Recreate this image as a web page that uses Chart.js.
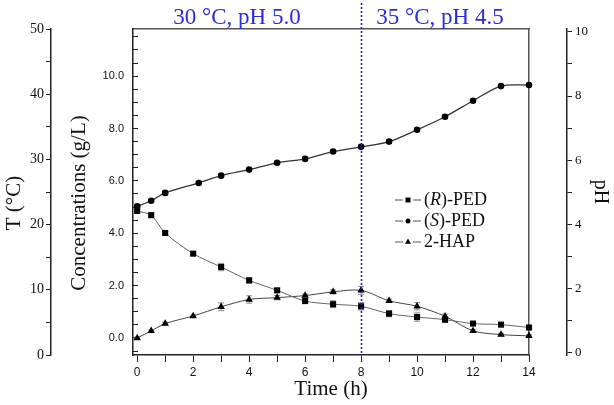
<!DOCTYPE html>
<html>
<head>
<meta charset="utf-8">
<script src="https://cdn.jsdelivr.net/npm/chart.js@4"></script>
<style>
  html, body { margin: 0; padding: 0; background: #fff; }
  #wrap { width: 614px; height: 405px; position: relative; }
</style>
</head>
<body>
<div id="wrap"><canvas id="chart"></canvas></div>
<script>
// sampling times (h)
const hours = [0, 0.5, 1, 2, 3, 4, 5, 6, 7, 8, 9, 10, 11, 12, 13, 14];
const hoursS = [0, 0.5, 1, 2.2, 3, 4, 5, 6, 7, 8, 9, 10, 11, 12, 13, 14];

// concentrations (g/L)
const rPed = [4.85, 4.69, 4.01, 3.22, 2.71, 2.20, 1.82, 1.41, 1.29, 1.21, 0.93, 0.80, 0.70, 0.55, 0.51, 0.40];
const sPed = [5.03, 5.24, 5.54, 5.92, 6.20, 6.43, 6.69, 6.84, 7.12, 7.30, 7.50, 7.95, 8.45, 9.06, 9.62, 9.66];
const hap = [0.00, 0.27, 0.55, 0.84, 1.19, 1.47, 1.54, 1.62, 1.76, 1.82, 1.42, 1.21, 0.83, 0.27, 0.13, 0.08];

// standard deviations
const rPedErr = [0.08, 0.06, 0.05, 0.05, 0.14, 0.10, 0.06, 0.05, 0.13, 0.14, 0.12, 0.16, 0.10, 0.05, 0.05, 0.06];
const sPedErr = [0.06, 0.05, 0.08, 0.06, 0.06, 0.05, 0.05, 0.05, 0.05, 0.06, 0.08, 0.06, 0.07, 0.06, 0.05, 0.05];
const hapErr = [0.03, 0.04, 0.05, 0.04, 0.15, 0.14, 0.08, 0.06, 0.08, 0.15, 0.06, 0.14, 0.08, 0.05, 0.05, 0.04];

const seriesNames = ['(R)-PED', '(S)-PED', '2-HAP'];
const phaseLabels = ['30 °C, pH 5.0', '35 °C, pH 4.5'];
const switchTime = 8;

const serif = '"Liberation Serif", "Times New Roman", serif';
const sans = '"Liberation Sans", Arial, sans-serif';

function onStep(v, step) {
  return Math.abs(v / step - Math.round(v / step)) < 1e-6;
}
function pts(xs, ys) {
  return xs.map((x, i) => ({ x: x, y: ys[i] }));
}

// error bars behind the markers
const errorBars = {
  id: 'errorBars',
  beforeDatasetsDraw(chart) {
    const ctx = chart.ctx;
    chart.data.datasets.forEach((ds, i) => {
      if (!ds.errors) return;
      const meta = chart.getDatasetMeta(i);
      const ys = chart.scales[meta.yAxisID];
      ctx.save();
      ctx.strokeStyle = '#8c8c8c';
      ctx.lineWidth = 1;
      meta.data.forEach((pt, j) => {
        const e = ds.errors[j];
        if (!e) return;
        const v = ds.data[j].y;
        const y1 = ys.getPixelForValue(v - e);
        const y2 = ys.getPixelForValue(v + e);
        ctx.beginPath();
        ctx.moveTo(pt.x, y1); ctx.lineTo(pt.x, y2);
        ctx.moveTo(pt.x - 3, y1); ctx.lineTo(pt.x + 3, y1);
        ctx.moveTo(pt.x - 3, y2); ctx.lineTo(pt.x + 3, y2);
        ctx.stroke();
      });
      ctx.restore();
    });
  }
};

// text pieces, some italic
function drawRich(ctx, parts, x, y, size) {
  parts.forEach(p => {
    ctx.font = (p[1] ? 'italic ' : '') + size + 'px ' + serif;
    ctx.fillText(p[0], x, y);
    x += ctx.measureText(p[0]).width;
  });
}

function drawVertical(ctx, text, x, y, size) {
  ctx.save();
  ctx.translate(x, y);
  ctx.rotate(-Math.PI / 2);
  ctx.font = size + 'px ' + serif;
  ctx.fillStyle = '#111';
  ctx.textAlign = 'center';
  ctx.textBaseline = 'middle';
  ctx.fillText(text, 0, 0);
  ctx.restore();
}

const extras = {
  id: 'extras',
  afterDraw(chart) {
    const ctx = chart.ctx;
    const area = chart.chartArea;
    const xs = chart.scales.x;

    // left axis titles
    drawVertical(ctx, 'T (°C)', 14, 203, 21);
    drawVertical(ctx, 'Concentrations (g/L)', 79, 203, 21);

    // dotted line where conditions change
    const sx = Math.round(xs.getPixelForValue(switchTime)) + 0.5;
    ctx.save();
    ctx.strokeStyle = '#1c1cf0';
    ctx.lineWidth = 1.6;
    ctx.setLineDash([2, 2]);
    ctx.beginPath();
    ctx.moveTo(sx, 3);
    ctx.lineTo(sx, area.bottom);
    ctx.stroke();
    ctx.restore();

    // phase labels
    ctx.save();
    ctx.fillStyle = '#2b2bdc';
    ctx.font = '23px ' + serif;
    ctx.textAlign = 'center';
    ctx.textBaseline = 'alphabetic';
    ctx.fillText(phaseLabels[0], 237, 24);
    ctx.fillText(phaseLabels[1], 440, 24);
    ctx.restore();

    // legend
    const rows = [
      { parts: [['(', false], ['R', true], [')-PED', false]], ds: 0 },
      { parts: [['(', false], ['S', true], [')-PED', false]], ds: 1 },
      { parts: [['2-HAP', false]], ds: 2 }
    ];
    ctx.save();
    rows.forEach((r, i) => {
      const ds = chart.data.datasets[r.ds];
      const y = 200 + i * 21;
      ctx.strokeStyle = '#555';
      ctx.lineWidth = 1;
      ctx.beginPath();
      ctx.moveTo(395, y); ctx.lineTo(403, y);
      ctx.moveTo(413, y); ctx.lineTo(421, y);
      ctx.stroke();
      ctx.fillStyle = '#000';
      ctx.strokeStyle = '#000';
      Chart.helpers.drawPoint(ctx, { pointStyle: ds.pointStyle, radius: ds.pointRadius - 0.8, rotation: 0, borderWidth: 0 }, 408, y);
      ctx.fillStyle = '#111';
      ctx.textBaseline = 'middle';
      ctx.textAlign = 'left';
      drawRich(ctx, r.parts, 424, y, 18);
    });
    ctx.restore();
  }
};

const lineBase = {
  xAxisID: 'x',
  yAxisID: 'y',
  showLine: true,
  tension: 0.3,
  borderWidth: 1,
  pointBackgroundColor: '#000',
  pointBorderColor: '#000',
  pointBorderWidth: 0,
  clip: false
};

new Chart(document.getElementById('chart'), {
  type: 'scatter',
  data: {
    datasets: [
      Object.assign({}, lineBase, {
        label: seriesNames[0], data: pts(hours, rPed), errors: rPedErr,
        borderColor: '#666', pointStyle: 'rect', pointRadius: 4.3
      }),
      Object.assign({}, lineBase, {
        label: seriesNames[1], data: pts(hoursS, sPed), errors: sPedErr,
        borderColor: '#333', borderWidth: 1.3, pointStyle: 'circle', pointRadius: 3.3
      }),
      Object.assign({}, lineBase, {
        label: seriesNames[2], data: pts(hours, hap), errors: hapErr,
        borderColor: '#444', pointStyle: 'triangle', pointRadius: 4.3
      })
    ]
  },
  options: {
    responsive: true,
    maintainAspectRatio: false,
    animation: false,
    layout: { padding: 0 },
    plugins: { legend: { display: false }, tooltip: { enabled: false } },
    scales: {
      x: {
        type: 'linear', position: 'bottom', min: -0.15, max: 14,
        afterFit: s => { s.height = 50; },
        ticks: {
          stepSize: 1, includeBounds: false, autoSkip: false, maxRotation: 0, padding: 3,
          color: '#111', font: { family: sans, size: 12 },
          callback: v => onStep(v, 2) ? String(v) : ''
        },
        grid: { drawOnChartArea: false, tickLength: 7, color: '#222' },
        border: { color: '#222', width: 1.5 },
        title: { display: true, text: 'Time (h)', color: '#111', font: { family: serif, size: 21 }, padding: { top: 0, bottom: 3 } }
      },
      xTop: {
        type: 'linear', position: 'top', min: 0, max: 1,
        afterFit: s => { s.height = 29; },
        ticks: { display: false },
        grid: { drawOnChartArea: false, drawTicks: false },
        border: { color: '#555', width: 1.5 }
      },
      yT: {
        type: 'linear', position: 'left', weight: 2, min: 0, max: 50,
        afterFit: s => { s.width = 51; },
        ticks: {
          stepSize: 5, includeBounds: false, autoSkip: false, padding: 2,
          color: '#111', font: { family: serif, size: 14 },
          callback: v => onStep(v, 10) ? String(v) : ''
        },
        grid: { drawOnChartArea: false, tickLength: 5, color: '#222' },
        border: { color: '#222', width: 1.5 }
      },
      y: {
        type: 'linear', position: 'left', weight: 1, min: -0.65, max: 11.8,
        afterFit: s => { s.width = 82; },
        ticks: {
          stepSize: 0.5, includeBounds: false, autoSkip: false, padding: 14,
          color: '#111', font: { family: sans, size: 11 },
          callback: v => onStep(v, 2) ? v.toFixed(1) : ''
        },
        grid: { drawOnChartArea: false, tickLength: -5, color: '#222' },
        border: { color: '#222', width: 1.5 }
      },
      yGap: {
        type: 'linear', position: 'right', weight: 1, min: 0, max: 1,
        afterFit: s => { s.width = 38; },
        ticks: { display: false },
        grid: { drawOnChartArea: false, drawTicks: false },
        border: { color: '#555', width: 1.5 }
      },
      yPH: {
        type: 'linear', position: 'right', weight: 2, min: -0.07, max: 10.09,
        afterFit: s => { s.width = 47; },
        ticks: {
          stepSize: 1, includeBounds: false, autoSkip: false, padding: 3,
          color: '#111', font: { family: serif, size: 13 },
          callback: v => onStep(v, 2) ? String(v) : ''
        },
        grid: { drawOnChartArea: false, tickLength: 5, color: '#222' },
        border: { color: '#222', width: 1.5 },
        title: { display: true, text: 'pH', color: '#111', font: { family: serif, size: 20 }, padding: { top: 2, bottom: 0 } }
      }
    }
  },
  plugins: [errorBars, extras]
});
</script>
</body>
</html>
